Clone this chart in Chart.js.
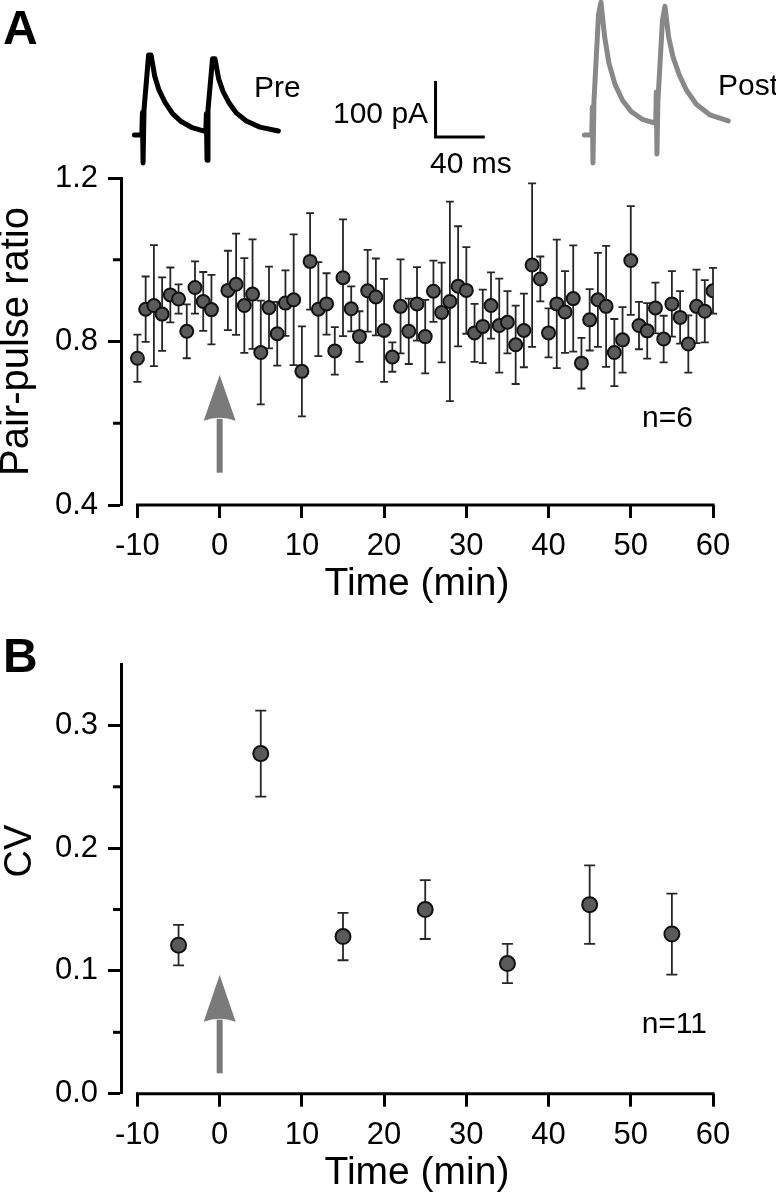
<!DOCTYPE html>
<html>
<head>
<meta charset="utf-8">
<script src="https://cdn.jsdelivr.net/npm/chart.js@4.4.1/dist/chart.umd.min.js"></script>
<style>
  html, body { margin: 0; padding: 0; background: #fff; }
  #wrap { position: relative; width: 776px; height: 1200px; }
  canvas { position: absolute; left: 0; }
  #chartA { top: 0; }
  #chartB { top: 620px; }
  #inset { top: 0; z-index: 2; pointer-events: none; }
</style>
</head>
<body>
<div id="wrap">
  <canvas id="chartA" width="776" height="620"></canvas>
  <canvas id="chartB" width="776" height="580"></canvas>
  <canvas id="inset" width="776" height="180"></canvas>
</div>
<script>
// Panel A: paired-pulse ratio, one point per minute (no sample at t = 0)
const timeA = [-10, -9, -8, -7, -6, -5, -4, -3, -2, -1,
  1, 2, 3, 4, 5, 6, 7, 8, 9, 10, 11, 12, 13, 14, 15, 16, 17, 18, 19, 20,
  21, 22, 23, 24, 25, 26, 27, 28, 29, 30, 31, 32, 33, 34, 35, 36, 37, 38, 39, 40,
  41, 42, 43, 44, 45, 46, 47, 48, 49, 50, 51, 52, 53, 54, 55, 56, 57, 58, 59, 60];
const pprMean = [0.759, 0.879, 0.888, 0.867, 0.914, 0.904, 0.825, 0.932, 0.898, 0.878,
  0.925, 0.940, 0.888, 0.916, 0.773, 0.883, 0.819, 0.894, 0.902, 0.727,
  0.996, 0.879, 0.892, 0.777, 0.956, 0.880, 0.812, 0.924, 0.909, 0.827,
  0.762, 0.886, 0.825, 0.892, 0.812, 0.923, 0.871, 0.898, 0.935, 0.925,
  0.821, 0.837, 0.888, 0.839, 0.847, 0.792, 0.827, 0.987, 0.953, 0.821,
  0.892, 0.872, 0.905, 0.747, 0.853, 0.902, 0.886, 0.773, 0.804, 0.998,
  0.839, 0.826, 0.882, 0.806, 0.892, 0.859, 0.794, 0.886, 0.874, 0.924];
const pprSem = [0.058, 0.080, 0.148, 0.090, 0.067, 0.036, 0.066, 0.064, 0.072, 0.085,
  0.097, 0.124, 0.116, 0.134, 0.127, 0.100, 0.078, 0.080, 0.160, 0.110,
  0.118, 0.115, 0.075, 0.058, 0.143, 0.055, 0.062, 0.100, 0.094, 0.126,
  0.036, 0.115, 0.080, 0.090, 0.090, 0.075, 0.122, 0.244, 0.147, 0.106,
  0.071, 0.090, 0.081, 0.115, 0.076, 0.096, 0.090, 0.200, 0.055, 0.060,
  0.157, 0.100, 0.130, 0.062, 0.075, 0.115, 0.148, 0.082, 0.080, 0.133,
  0.058, 0.068, 0.062, 0.057, 0.080, 0.064, 0.070, 0.090, 0.076, 0.056];
const xTicks = [-10, 0, 10, 20, 30, 40, 50, 60];
const yTicksA = [0.4, 0.6, 0.8, 1.0, 1.2];
const yLabelsA = [0.4, 0.8, 1.2];
const arrowA = [0.718, 0.606, 0.479];   // tip, head base, tail

// Panel B: coefficient of variation in 10-min bins
const timeB = [-5, 5, 15, 25, 35, 45, 55];
const cvMean = [0.121, 0.277, 0.128, 0.150, 0.106, 0.154, 0.130];
const cvSem = [0.0165, 0.035, 0.0193, 0.024, 0.016, 0.032, 0.033];
const yTicksB = [0, 0.05, 0.1, 0.15, 0.2, 0.25, 0.3];
const yLabelsB = [0, 0.1, 0.2, 0.3];
const arrowB = [0.0967, 0.0587, 0.0166];

// Example paired-pulse traces: ms after first stimulus, pA
const traceTime = [-7, -1, -0.5, 0, 0.8, 4.5, 6.5, 9.5, 13, 18, 24, 31, 40, 51,
  51.5, 52, 52.8, 56.5, 58.5, 61.5, 65, 70, 76, 84, 95, 110];
const preTrace = [0, 0, 40, -50, 45, 143, 143, 105, 80, 58, 38, 24, 13, 6,
  38, -45, 45, 136, 136, 100, 78, 57, 39, 25, 14, 7];
const postTrace = [0, 0, 50, -50, 60, 215, 237, 175, 128, 90, 62, 42, 28, 21,
  77, -34, 60, 205, 230, 175, 140, 108, 80, 55, 36, 25];

const FONT = '"Liberation Sans", Arial, Helvetica, sans-serif';
Chart.defaults.font.family = FONT;
Chart.defaults.color = '#000';

const near = (list, v) => list.some(l => Math.abs(l - v) < 1e-9);

const decorPlugin = {
  id: 'decor',
  beforeDatasetsDraw(chart, args, opts) {
    const { ctx, scales: { x, y } } = chart;
    const ds = chart.data.datasets[0];
    ctx.save();
    ctx.strokeStyle = '#262626';
    ctx.lineWidth = 1.8;
    ds.data.forEach((p, i) => {
      const e = opts.errors[i];
      const px = x.getPixelForValue(p.x);
      const top = y.getPixelForValue(p.y + e);
      const bot = y.getPixelForValue(p.y - e);
      ctx.beginPath();
      ctx.moveTo(px, top); ctx.lineTo(px, bot);
      ctx.moveTo(px - opts.cap, top); ctx.lineTo(px + opts.cap, top);
      ctx.moveTo(px - opts.cap, bot); ctx.lineTo(px + opts.cap, bot);
      ctx.stroke();
    });
    ctx.restore();
  },
  afterDraw(chart, args, opts) {
    const { ctx, chartArea, scales: { x, y } } = chart;
    ctx.save();
    // x axis line only spans the labelled range
    ctx.strokeStyle = '#000';
    ctx.lineWidth = 3;
    ctx.beginPath();
    ctx.moveTo(x.getPixelForValue(xTicks[0]) - 1.5, chartArea.bottom);
    ctx.lineTo(x.getPixelForValue(xTicks[xTicks.length - 1]) + 1.5, chartArea.bottom);
    ctx.stroke();
    // short minor ticks
    opts.minor.forEach(v => {
      const py = y.getPixelForValue(v);
      ctx.beginPath();
      ctx.moveTo(chartArea.left - 8, py);
      ctx.lineTo(chartArea.left, py);
      ctx.stroke();
    });
    // drug application arrow at t = 0
    const ax = x.getPixelForValue(0);
    const [tip, base, tail] = opts.arrow.map(v => y.getPixelForValue(v));
    ctx.fillStyle = '#7a7a7a';
    ctx.fillRect(ax - 3, base - 2, 6, tail - base + 2);
    ctx.beginPath();
    ctx.moveTo(ax, tip);
    ctx.lineTo(ax + 16, base);
    ctx.quadraticCurveTo(ax, base - 6, ax - 16, base);
    ctx.closePath();
    ctx.fill();
    // panel letter and n
    ctx.fillStyle = '#000';
    ctx.textBaseline = 'alphabetic';
    ctx.textAlign = 'left';
    ctx.font = 'bold 48px ' + FONT;
    ctx.fillText(opts.panel, opts.panelPos[0], opts.panelPos[1]);
    ctx.textAlign = 'right';
    ctx.font = '30px ' + FONT;
    ctx.fillText(opts.note, opts.notePos[0], opts.notePos[1]);
    if (opts.yTitle) {
      ctx.translate(opts.yTitle.x, opts.yTitle.y);
      ctx.rotate(-Math.PI / 2);
      ctx.textAlign = 'center';
      ctx.font = '38px ' + FONT;
      ctx.fillText(opts.yTitle.text, 0, 0);
    }
    ctx.restore();
  }
};

function xScale(axisHeight, titlePad) {
  return {
    type: 'linear', min: -12, max: 60,
    afterBuildTicks: s => { s.ticks = xTicks.map(v => ({ value: v })); },
    afterFit: s => { s.height = axisHeight; },
    border: { display: false },
    grid: { drawOnChartArea: false, drawTicks: true, tickLength: 13, tickWidth: 3, tickColor: '#000' },
    ticks: { font: { size: 31 }, padding: 10, maxRotation: 0, autoSkip: false, callback: v => String(v) },
    title: { display: true, text: 'Time (min)', font: { size: 39, lineHeight: 1 }, padding: { top: 0, bottom: titlePad } }
  };
}

function yScale(min, max, ticks, labels, title) {
  return {
    type: 'linear', min: min, max: max,
    afterBuildTicks: s => { s.ticks = ticks.map(v => ({ value: v })); },
    afterFit: s => { s.width = 121; },
    border: { display: true, color: '#000', width: 3 },
    grid: {
      drawOnChartArea: false, drawTicks: true, tickLength: 13, tickWidth: 3,
      tickColor: c => (c.tick && near(labels, c.tick.value)) ? '#000' : 'rgba(0,0,0,0)'
    },
    ticks: { font: { size: 31 }, padding: 10, autoSkip: false,
      callback: v => near(labels, v) ? v.toFixed(1) : '' },
    title: title
      ? { display: true, text: title, font: { size: 40, lineHeight: 0.85 }, padding: 0 }
      : { display: false }
  };
}

const pointStyle = {
  showLine: false,
  pointRadius: 6.5,
  pointBorderWidth: 2,
  pointBackgroundColor: '#5a5a5a',
  pointBorderColor: '#111'
};

// Panel A
new Chart(document.getElementById('chartA'), {
  type: 'scatter',
  data: {
    datasets: [Object.assign({
      label: 'PPR',
      data: timeA.map((t, i) => ({ x: t, y: pprMean[i] }))
    }, pointStyle)]
  },
  options: {
    responsive: false, animation: false, devicePixelRatio: 1,
    layout: { padding: { left: 0, top: 178, right: 63, bottom: 0 } },
    plugins: {
      legend: { display: false }, tooltip: { enabled: false },
      decor: {
        errors: pprSem, cap: 4, minor: [0.6, 1.0], arrow: arrowA,
        panel: 'A', panelPos: [3, 44], note: 'n=6', notePos: [693, 427]
      }
    },
    scales: {
      x: xScale(115, 16),
      y: yScale(0.4, 1.2, yTicksA, yLabelsA, 'Pair-pulse ratio')
    }
  },
  plugins: [decorPlugin]
});

// Panel B
new Chart(document.getElementById('chartB'), {
  type: 'scatter',
  data: {
    datasets: [Object.assign({
      label: 'CV',
      data: timeB.map((t, i) => ({ x: t, y: cvMean[i] }))
    }, pointStyle, { pointRadius: 7.5 })]
  },
  options: {
    responsive: false, animation: false, devicePixelRatio: 1,
    layout: { padding: { left: 0, top: 44, right: 63, bottom: 0 } },
    plugins: {
      legend: { display: false }, tooltip: { enabled: false },
      decor: {
        errors: cvSem, cap: 5.5, minor: [0.05, 0.15, 0.25], arrow: arrowB,
        panel: 'B', panelPos: [3, 52], note: 'n=11', notePos: [707, 413],
        yTitle: { text: 'CV', x: 31, y: 231 }
      }
    },
    scales: {
      x: xScale(106.3, 7),
      y: yScale(0, 0.35, yTicksB, yLabelsB, null)
    }
  },
  plugins: [decorPlugin]
});

// Inset: example traces with scale bar (1 ms = 1.23 px, 1 pA = 0.56 px)
const PRE_AT = 116.3, POST_AT = 482.1;     // stimulus position on the inset time axis
const BAR_X = 354.1, BAR_Y = -3.6;          // scale bar corner
const insetLabels = {
  id: 'insetLabels',
  afterDraw(chart) {
    const ctx = chart.ctx;
    ctx.save();
    ctx.fillStyle = '#000';
    ctx.textBaseline = 'alphabetic';
    ctx.textAlign = 'left';
    ctx.font = '30px ' + FONT;
    ctx.fillText('Pre', 254, 97);
    ctx.fillText('Post', 718, 95);
    ctx.fillText('100 pA', 333, 123);
    ctx.fillText('40 ms', 430, 173);
    ctx.restore();
  }
};
new Chart(document.getElementById('inset'), {
  type: 'line',
  data: {
    datasets: [
      { data: traceTime.map((t, i) => ({ x: t + PRE_AT, y: preTrace[i] })), borderColor: '#000' },
      { data: traceTime.map((t, i) => ({ x: t + POST_AT, y: postTrace[i] })), borderColor: '#888' },
      { data: [{ x: BAR_X, y: BAR_Y + 100 }, { x: BAR_X, y: BAR_Y }, { x: BAR_X + 40, y: BAR_Y }],
        borderColor: '#000', borderWidth: 3, borderJoinStyle: 'miter', borderCapStyle: 'butt' }
    ]
  },
  options: {
    responsive: false, animation: false, devicePixelRatio: 1,
    layout: { padding: 0 },
    elements: {
      point: { radius: 0 },
      line: { borderWidth: 5, tension: 0, borderJoinStyle: 'round', borderCapStyle: 'round' }
    },
    datasets: { line: { clip: false } },
    plugins: { legend: { display: false }, tooltip: { enabled: false } },
    scales: {
      x: { type: 'linear', display: false, min: 0, max: 630.9 },
      y: { type: 'linear', display: false, min: -80.4, max: 241.1 }
    }
  },
  plugins: [insetLabels]
});
</script>
</body>
</html>
